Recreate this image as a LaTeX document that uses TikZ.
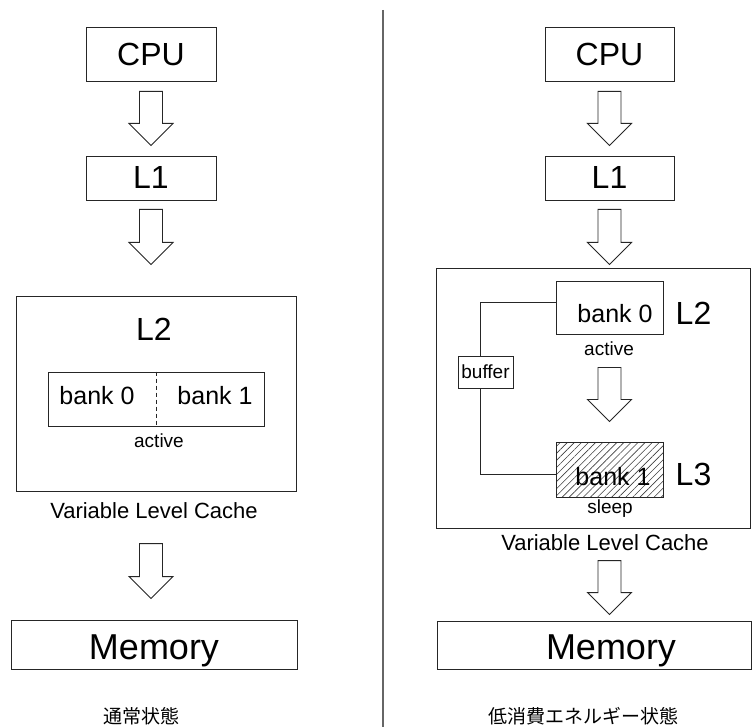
\documentclass[tikz,border=0pt]{standalone}
\usepackage{fontspec}
\setmainfont{Liberation Sans}
\newfontfamily\jpfont{Noto Sans CJK JP}
\usetikzlibrary{calc,patterns.meta}
\newcommand\blockarrow[2]{%
  \draw[blockarr] let \p1=(#1), \p2=(#2) in
    (\x1-11.5pt,\y1) -- (\x1+11.5pt,\y1) -- (\x1+11.5pt,\y2+22pt) -- (\x1+22pt,\y2+22pt)
    -- (\x1,\y2) -- (\x1-22pt,\y2+22pt) -- (\x1-11.5pt,\y2+22pt) -- cycle;}
\begin{document}
\begin{tikzpicture}[x=1pt,y=-1pt,
  box/.style={draw=black!85,line width=0.9pt,inner sep=0pt,fill=white},
  txt/.style={inner sep=0pt,anchor=base},
  conn/.style={draw=black!85,line width=0.9pt},
  blockarr/.style={draw=black!85,line width=0.9pt,fill=white,line join=miter},
  big/.style={font=\fontsize{32}{32}\selectfont},
  huge/.style={font=\fontsize{36}{36}\selectfont},
  mid/.style={font=\fontsize{25}{25}\selectfont},
  vlc/.style={font=\fontsize{22}{22}\selectfont},
  small/.style={font=\fontsize{19}{19}\selectfont},
  jp/.style={font=\jpfont\fontsize{19}{19}\selectfont}]

\useasboundingbox (0,0) rectangle (752,727);

% divider
\coordinate (divtop) at (383,10);
\coordinate (divbot) at (383,727);
\draw[black!60,line width=1.5pt] (divtop) -- (divbot);

% ---------------- left: normal state ----------------
\node[box,big,minimum width=130pt,minimum height=54pt,text height=23pt,text depth=0pt] (cpuL) at (151,54) {CPU};
\node[box,big,minimum width=130pt,minimum height=44pt,text height=21pt,text depth=0pt] (l1L) at (151,178) {L1};
\node[box,minimum width=280pt,minimum height=195pt] (vlcL) at (156,393.5) {};
\node[txt,big] (l2L) at (154,340.5) {L2};
\node[box,minimum width=216pt,minimum height=54pt] (bankL) at (156,399) {};
\draw[conn,dash pattern=on 4pt off 3pt] (bankL.north) -- (bankL.south);
\node[txt,mid] (b0L) at (97,404) {bank 0};
\node[txt,mid] (b1L) at (215,404) {bank 1};
\node[txt,small] (actL) at (159,447.5) {active};
\node[txt,vlc] (vlcLlab) at (154,518) {Variable Level Cache};
\node[box,huge,minimum width=286pt,minimum height=49pt,text height=29pt,text depth=0pt] (memL) at (154,644.5) {Memory};
\node[txt,jp] (stateL) at (141,723) {通常状態};

\blockarrow{$(cpuL.south)+(0,10)$}{$(cpuL.south)+(0,64)$}
\blockarrow{$(l1L.south)+(0,9)$}{$(l1L.south)+(0,64)$}
\blockarrow{$(cpuL.south |- memL.north)+(0,-76)$}{$(cpuL.south |- memL.north)+(0,-21)$}

% ---------------- right: low-power state ----------------
\node[box,big,minimum width=129pt,minimum height=54pt,text height=23pt,text depth=0pt] (cpuR) at (609.5,54) {CPU};
\node[box,big,minimum width=129pt,minimum height=44pt,text height=21pt,text depth=0pt] (l1R) at (609.5,178) {L1};
\node[box,minimum width=314pt,minimum height=260pt] (vlcR) at (593.5,398) {};
\node[box,minimum width=107pt,minimum height=53pt] (bank0R) at (609.5,307.5) {};
\node[txt,mid] (b0R) at (615,323) {bank 0};
\node[txt,big] (l2R) at (693.5,324) {L2};
\node[txt,small] (actR) at (609,355) {active};
\node[box,minimum width=55pt,minimum height=32pt] (buffer) at (485.5,372) {};
\node[txt,small] (buftxt) at (485.5,378) {buffer};
\node[box,minimum width=107pt,minimum height=55pt,pattern={Lines[angle=45,distance=5pt,line width=0.6pt]},pattern color=black!75] (bank1R) at (609.5,469.5) {};
\node[txt,mid] (b1R) at (613,485) {bank 1};
\node[txt,big] (l3R) at (693.5,485) {L3};
\node[txt,small] (sleepR) at (610,513) {sleep};
\node[txt,vlc] (vlcRlab) at (605,550) {Variable Level Cache};
\node[box,minimum width=314pt,minimum height=48pt] (memR) at (594,645) {};
\node[txt,huge] (memRtxt) at (611,659) {Memory};
\node[txt,jp] (stateR) at (583,723) {低消費エネルギー状態};

\draw[conn] ($(bank0R.west)+(0,-5)$) -| ($(buffer.north)+(-5.5,0)$);
\draw[conn] ($(buffer.south)+(-5.5,0)$) |- ($(bank1R.west)+(0,4.5)$);

\blockarrow{$(cpuR.south)+(0,10)$}{$(cpuR.south)+(0,64)$}
\blockarrow{$(l1R.south)+(0,9)$}{$(l1R.south)+(0,64)$}
\blockarrow{$(bank0R.south)+(0,33)$}{$(bank0R.south)+(0,87)$}
\blockarrow{$(cpuR.south |- memR.north)+(0,-60)$}{$(cpuR.south |- memR.north)+(0,-6)$}
\end{tikzpicture}
\end{document}
